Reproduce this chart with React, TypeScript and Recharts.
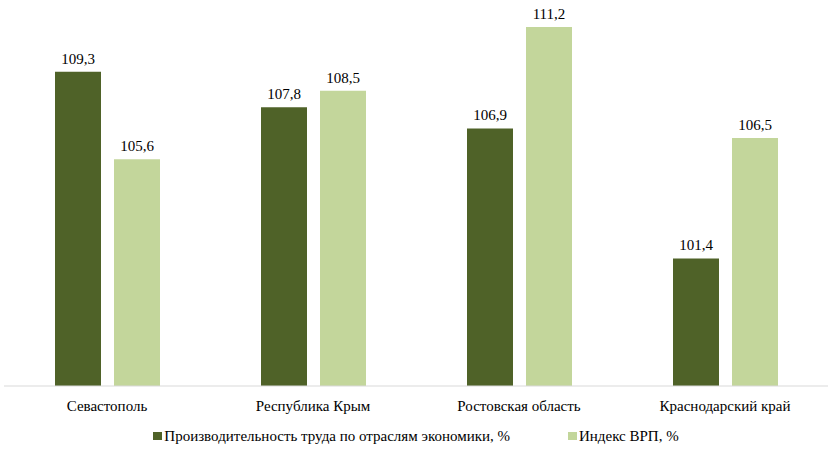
import { Bar, BarChart, LabelList, Legend, XAxis, YAxis } from 'recharts';

const regions = ['Севастополь', 'Республика Крым', 'Ростовская область', 'Краснодарский край'];
const productivity = [109.3, 107.8, 106.9, 101.4];
const grpIndex = [105.6, 108.5, 111.2, 106.5];

const SERIES = [
  { key: 'productivity', name: 'Производительность труда по отраслям экономики, %', color: '#4f6228' },
  { key: 'grp', name: 'Индекс ВРП, %', color: '#c3d69b' },
];

const FONT = 'Liberation Serif, DejaVu Serif, serif';

const data = regions.map((label, i) => ({
  label,
  productivity: productivity[i],
  grp: grpIndex[i],
}));

const fmt = (v: unknown) => String(v).replace('.', ',');

function ChartLegend() {
  return (
    <div
      style={{
        display: 'flex',
        justifyContent: 'center',
        alignItems: 'center',
        gap: 58,
        height: 34,
        paddingTop: 6,
        boxSizing: 'border-box',
        fontFamily: FONT,
        fontSize: 15,
        color: '#000',
      }}
    >
      {SERIES.map((s) => (
        <div key={s.key} style={{ display: 'flex', alignItems: 'center' }}>
          <span style={{ width: 9, height: 8, background: s.color, marginRight: 2, display: 'inline-block' }} />
          <span>{s.name}</span>
        </div>
      ))}
    </div>
  );
}

export default function App() {
  return (
    <div style={{ position: 'absolute', left: 0, top: 0, width: 830, height: 450, background: '#fff', fontFamily: FONT }}>
      <BarChart
        width={830}
        height={450}
        data={data}
        margin={{ top: 8, right: 2, bottom: 0, left: 4 }}
        barGap={13}
        barSize={46}
        style={{ fontFamily: FONT }}
      >
        <XAxis
          dataKey="label"
          height={30}
          tickLine={false}
          tickMargin={8}
          axisLine={{ stroke: '#d9d9d9' }}
          tick={{ fontFamily: FONT, fontSize: 15, fill: '#000' }}
        />
        <YAxis hide domain={[96, 112]} allowDataOverflow />
        <Legend verticalAlign="bottom" content={<ChartLegend />} />
        {SERIES.map((s) => (
          <Bar key={s.key} dataKey={s.key} name={s.name} fill={s.color} isAnimationActive={false}>
            <LabelList
              dataKey={s.key}
              position="top"
              offset={8}
              formatter={fmt}
              fontFamily={FONT}
              fontSize={15}
              fill="#000"
            />
          </Bar>
        ))}
      </BarChart>
    </div>
  );
}
